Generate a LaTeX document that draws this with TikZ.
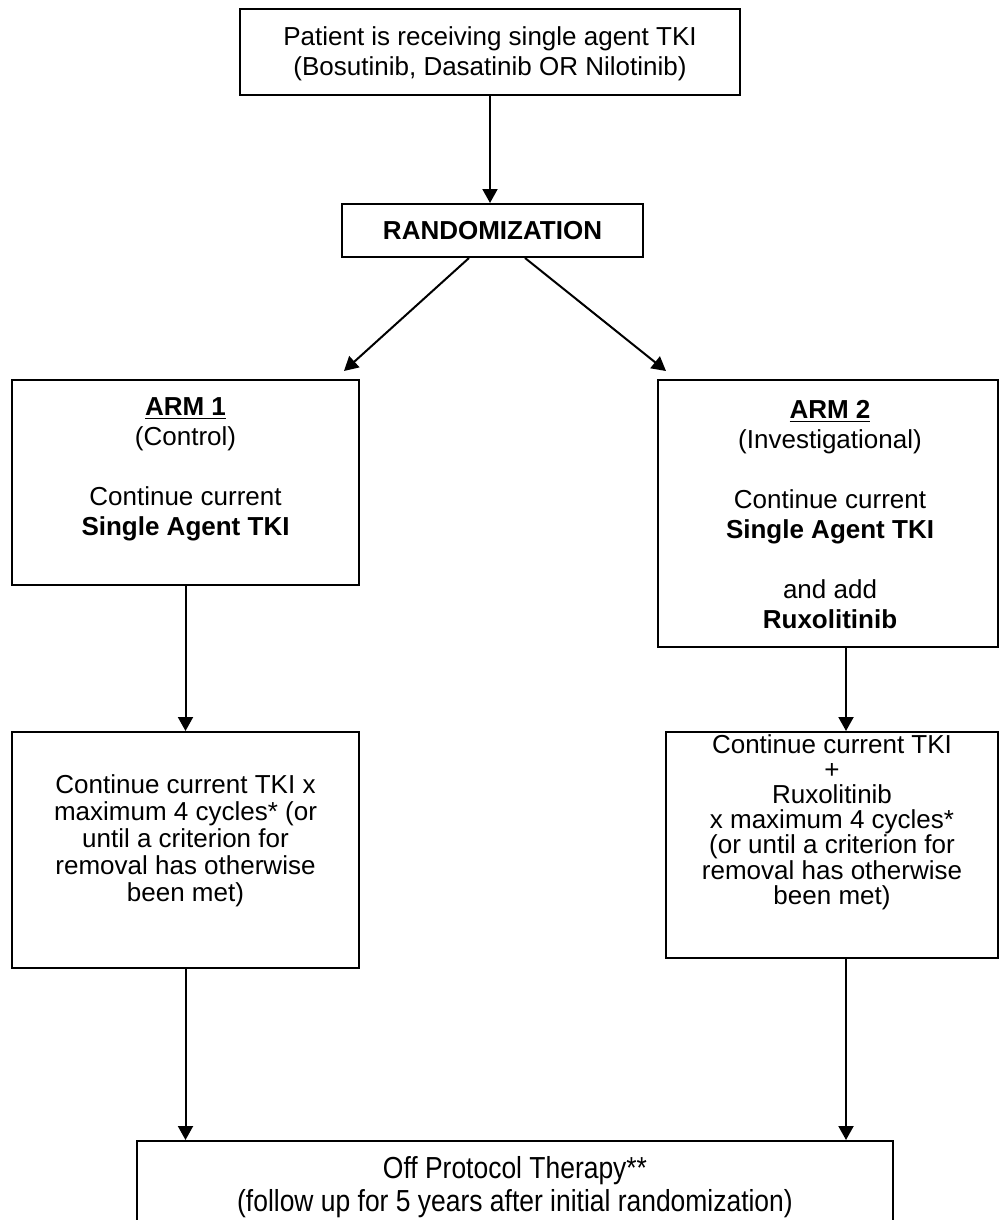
\documentclass[tikz,border=0pt]{standalone}
\usepackage{fontspec}
\setmainfont{Liberation Sans}
\newfontfamily\narrowfont{Liberation Sans}[FakeStretch=0.87]
\usetikzlibrary{arrows.meta,calc}
\begin{document}
\begin{tikzpicture}[x=0.5pt,y=-0.5pt,
  box/.style={draw=black,line width=1pt,inner sep=0pt,fill=none},
  txt/.style={align=center,inner sep=0pt,font=\fontsize{13pt}{15pt}\selectfont},
  txtb/.style={align=center,inner sep=0pt,font=\fontsize{13pt}{13.5pt}\selectfont},
  txtc/.style={align=center,inner sep=0pt,font=\fontsize{13pt}{12.6pt}\selectfont},
  arr/.style={line width=1pt,-{Triangle[length=7pt,width=7.5pt]}}]
\useasboundingbox (0,0) rectangle (1000,1220);
\clip (0,0) rectangle (1000,1220);
\fill[white] (0,0) rectangle (1000,1220);
% boxes
\node[box,minimum width=250pt,minimum height=43pt] (top) at (490,52) {};
\node[txt] (topt) at (490,54)
  {Patient is receiving single agent TKI\\(Bosutinib, Dasatinib OR Nilotinib)};
\node[box,minimum width=150.5pt,minimum height=26.5pt,txt] (rand) at (492.5,230.5)
  {\textbf{RANDOMIZATION}};
\node[box,minimum width=173.5pt,minimum height=102.5pt] (arm1) at (185.5,482.5) {};
\node[txt] (arm1t) at (185.5,469)
  {\underline{\textbf{ARM 1}}\\(Control)\\[15pt]Continue current\\\textbf{Single Agent TKI}};
\node[box,minimum width=170pt,minimum height=133.5pt] (arm2) at (828,513.5) {};
\node[txt] (arm2t) at (830,515)
  {\underline{\textbf{ARM 2}}\\(Investigational)\\[15pt]Continue current\\\textbf{Single Agent TKI}\\[15pt]and add\\\textbf{Ruxolitinib}};
\node[box,minimum width=173.5pt,minimum height=118pt] (b3l) at (185.5,850) {};
\node[txtb] (b3lt) at (185.5,841)
  {Continue current TKI x\\maximum 4 cycles* (or\\until a criterion for\\removal has otherwise\\been met)};
\node[box,minimum width=166pt,minimum height=113pt] (b3r) at (832,845) {};
\node[txtc] (b3rt) at (832,822)
  {Continue current TKI\\+\\Ruxolitinib\\x maximum 4 cycles*\\(or until a criterion for\\removal has otherwise\\been met)};
\node[box,minimum width=378pt,minimum height=80pt] (bot) at (515,1221) {};
\node[align=center,inner sep=0pt,font=\narrowfont\fontsize{15.2pt}{16.5pt}\selectfont] (bott) at (515,1187)
  {Off Protocol Therapy**\\(follow up for 5 years after initial randomization)};
% connectors
\coordinate (rx) at (846,0);
\draw[arr] (top.south) -- (top.south |- rand.north);
\draw[arr] ($(rand.south)+(-23.5,0)$) -- ($(arm1.north east)+(-16,-8)$);
\draw[arr] ($(rand.south)+(32.5,0)$) -- ($(arm2.north west)+(9,-8)$);
\draw[arr] (arm1.south) -- (b3l.north);
\draw[arr] (arm2.south -| rx) -- (b3r.north -| rx);
\draw[arr] (b3l.south) -- (b3l.south |- bot.north);
\draw[arr] (b3r.south -| rx) -- (bot.north -| rx);
\end{tikzpicture}
\end{document}
